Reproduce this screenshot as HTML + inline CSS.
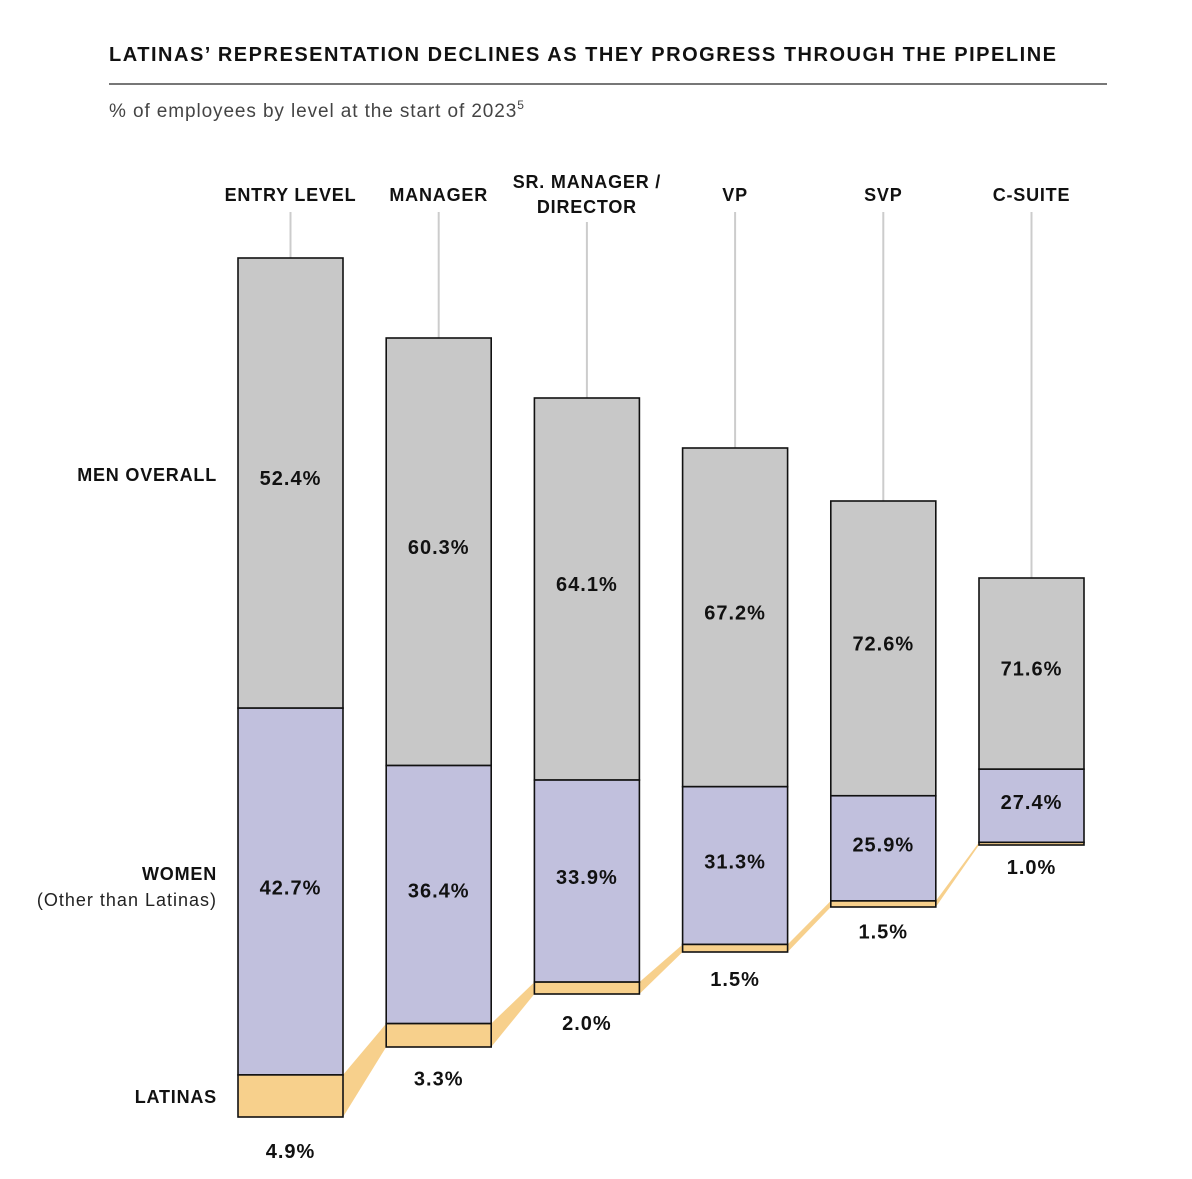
<!DOCTYPE html>
<html><head><meta charset="utf-8">
<style>
body{margin:0;background:#fff;font-family:"Liberation Sans",sans-serif;}
svg text{font-family:"Liberation Sans",sans-serif;}
</style></head>
<body>
<svg width="1192" height="1174" viewBox="0 0 1192 1174">
<text x="109" y="61" font-size="20" font-weight="bold" fill="#111" textLength="947" lengthAdjust="spacing">LATINAS’ REPRESENTATION DECLINES AS THEY PROGRESS THROUGH THE PIPELINE</text>
<line x1="109" y1="84" x2="1107" y2="84" stroke="#777" stroke-width="2"/>
<text x="109" y="117" font-size="19" letter-spacing="0.9" fill="#444">% of employees by level at the start of 2023<tspan font-size="12" dy="-8" letter-spacing="0">5</tspan></text>
<text x="217" y="481" font-size="18" font-weight="bold" letter-spacing="0.8" text-anchor="end" fill="#111">MEN OVERALL</text>
<text x="217" y="880" font-size="18" font-weight="bold" letter-spacing="0.8" text-anchor="end" fill="#111">WOMEN</text>
<text x="217" y="906" font-size="18" letter-spacing="1" text-anchor="end" fill="#222">(Other than Latinas)</text>
<text x="217" y="1103" font-size="18" font-weight="bold" letter-spacing="0.8" text-anchor="end" fill="#111">LATINAS</text>
<g id="connectors"></g>
<g id="bars"></g>
</svg>
<script>
const categories = ["ENTRY LEVEL","MANAGER","SR. MANAGER /|DIRECTOR","VP","SVP","C-SUITE"];
const menValues = [52.4,60.3,64.1,67.2,72.6,71.6];
const womenValues = [42.7,36.4,33.9,31.3,25.9,27.4];
const latinaValues = [4.9,3.3,2.0,1.5,1.5,1.0];
// layout (funnel geometry, not data)
const barTops = [258,338,398,448,501,578];
const barBottoms = [1117,1047,994,952,907,845];
const x0 = 238, step = 148.2, bw = 105;
const NS = "http://www.w3.org/2000/svg";
const gB = document.getElementById('bars'), gC = document.getElementById('connectors');
function mk(tag, attrs, parent){const e=document.createElementNS(NS,tag);for(const k in attrs)e.setAttribute(k,attrs[k]);parent.appendChild(e);return e;}
function xPos(i){return x0+i*step;}
const segs = [];
categories.forEach((c,i)=>{
  const total = menValues[i]+womenValues[i]+latinaValues[i];
  const sc = (barBottoms[i]-barTops[i])/total;
  const yLat = barBottoms[i]-latinaValues[i]*sc;
  const yWom = yLat-womenValues[i]*sc;
  segs.push({yLat, yWom});
  const x = xPos(i), cx = x+bw/2;
  const lines = c.split('|');
  lines.forEach((l,k)=>{
    const t = mk('text',{x:cx,y:(lines.length>1?188+k*25:201),'font-size':18,'font-weight':'bold','letter-spacing':0.8,'text-anchor':'middle',fill:'#111'},gB);
    
    
    t.textContent=l;
  });
  const ln = mk('line',{x1:cx,y1:(lines.length>1?222:212),x2:cx,y2:barTops[i],stroke:'#ccc','stroke-width':2},gB);
  
  
  const m = mk('rect',{x:x,y:barTops[i],width:bw,height:yWom-barTops[i],fill:'#c8c8c8',stroke:'#111','stroke-width':1.6},gB);
  
  
  const w = mk('rect',{x:x,y:yWom,width:bw,height:yLat-yWom,fill:'#c1c0dd',stroke:'#111','stroke-width':1.6},gB);
  
  
  const la = mk('rect',{x:x,y:yLat,width:bw,height:barBottoms[i]-yLat,fill:'#f7d08c',stroke:'#111','stroke-width':1.6},gB);
  
  
  const t1 = mk('text',{x:cx,y:(barTops[i]+yWom)/2+2,'font-size':20,'font-weight':'bold','letter-spacing':1,'text-anchor':'middle',fill:'#111'},gB);
  
  
  t1.textContent=menValues[i].toFixed(1)+'%';
  const t2 = mk('text',{x:cx,y:(yWom+yLat)/2+3,'font-size':20,'font-weight':'bold','letter-spacing':1,'text-anchor':'middle',fill:'#111'},gB);
  
  
  t2.textContent=womenValues[i].toFixed(1)+'%';
  const t3 = mk('text',{x:cx,y:barBottoms[i]+29+Math.max(0,(5-i))*2.4,'font-size':20,'font-weight':'bold','letter-spacing':1,'text-anchor':'middle',fill:'#111'},gB);
  
  
  t3.textContent=latinaValues[i].toFixed(1)+'%';
});
for(let i=0;i<categories.length-1;i++){
  const xa=xPos(i)+bw, xb=xPos(i+1);
  const p = mk('polygon',{points:`${xa},${segs[i].yLat} ${xb},${segs[i+1].yLat} ${xb},${barBottoms[i+1]} ${xa},${barBottoms[i]}`,fill:'#f7d08c'},gC);
  
  
}
</script>
</body></html>
